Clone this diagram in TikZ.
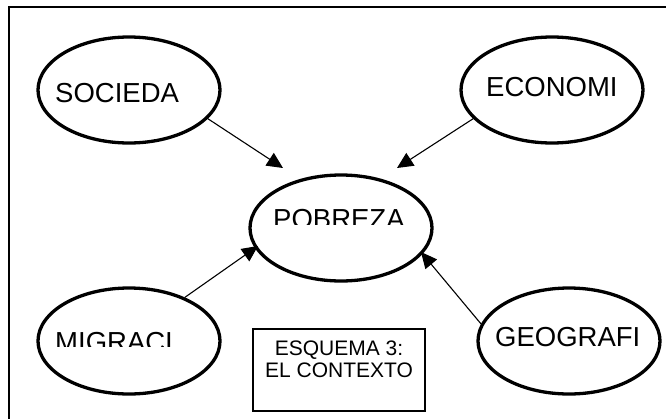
\documentclass[tikz,border=0pt]{standalone}
\usepackage{fontspec}
\setmainfont{Liberation Sans}
\usetikzlibrary{shapes.geometric,arrows.meta}
\begin{document}
\begin{tikzpicture}[x=1pt,y=-1pt,
  oval/.style={draw, ellipse, line width=3.3pt, minimum width=182pt, minimum height=106pt, inner sep=0pt},
  lbl/.style={anchor=base west, inner sep=0pt, font=\fontsize{27.5}{30}\selectfont},
  boxtxt/.style={anchor=base, inner sep=0pt, font=\fontsize{21}{24}\selectfont},
  conn/.style={line width=1.1pt, -{Triangle[length=16pt,width=15pt]}}]
\useasboundingbox (0,0) rectangle (666,418);
% frame (right and bottom edges lie outside the picture)
\draw[line width=2pt] (9,430) -- (9,7) -- (680,7);
% ellipses
\node[oval] (soc) at (129,90) {};
\node[oval] (eco) at (552,90) {};
\node[oval] (pob) at (341,228) {};
\node[oval] (mig) at (129,341) {};
\node[oval] (geo) at (569,341) {};
% labels
\node[lbl] (lsoc) at (55,102) {SOCIEDA};
\node[lbl] (leco) at (486,96) {ECONOMI};
\begin{scope}
  \clip (250,180) rectangle (440,224);
  \node[lbl] (lpob) at (273,228) {POBREZA};
\end{scope}
\begin{scope}
  \clip (40,300) rectangle (220,346);
  \node[lbl] (lmig) at (55,351) {MIGRACI};
\end{scope}
\node[lbl] (lgeo) at (495,346) {GEOGRAFI};
% text box
\node[draw, line width=1.3pt, minimum width=172pt, minimum height=82pt, inner sep=0pt] (box) at (339,370) {};
\node[boxtxt] (b1) at (339,355) {ESQUEMA 3:};
\node[boxtxt] (b2) at (339,377) {EL CONTEXTO};
% arrow tips
\coordinate (t1) at (283,168);
\coordinate (t2) at (397,168);
\coordinate (t3) at (258,246);
\coordinate (t4) at (421,252);
\draw[conn] (soc.-20) -- (t1);
\draw[conn] (eco.200) -- (t2);
\draw[conn] (mig.38) -- (t3);
\draw[conn] (geo.169) -- (t4);
\end{tikzpicture}
\end{document}
